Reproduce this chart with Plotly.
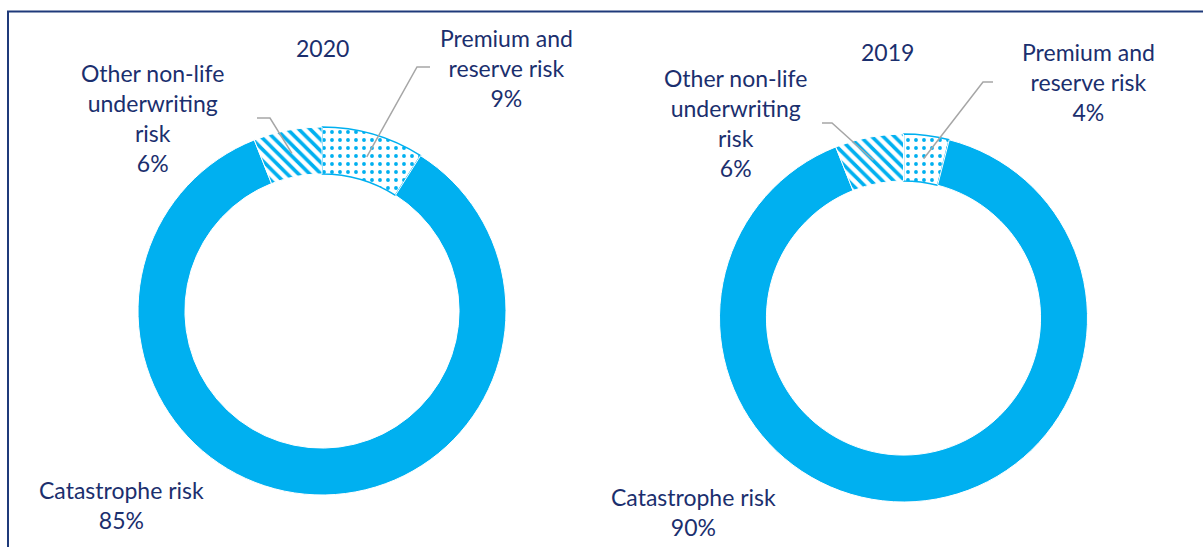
import math
import plotly.graph_objects as go

# ---- data ----
categories = ["Premium and reserve risk", "Catastrophe risk", "Other non-life underwriting risk"]
values_2020 = [9, 85, 6]
values_2019 = [4, 90, 6]
years = ["2020", "2019"]

# ---- layout constants ----
W, H = 1203, 547
BLUE = "#00B0F0"
NAVY = "#1B2F6E"
FONT = "Lato"
FS = 23
R_OUT = 184
HOLE = 0.745
centers = [(322, 311), (903.5, 318)]

def px(x):
    return x / W

def py(y):
    return 1 - y / H

fig = go.Figure()
for vals, (cx, cy) in zip([values_2020, values_2019], centers):
    fig.add_trace(go.Pie(
        labels=categories,
        values=vals,
        sort=False,
        direction="clockwise",
        rotation=0,
        hole=HOLE,
        textinfo="none",
        hoverinfo="skip",
        showlegend=False,
        domain=dict(x=[px(cx - R_OUT), px(cx + R_OUT)],
                    y=[py(cy + R_OUT), py(cy - R_OUT)]),
        marker=dict(
            colors=["white", BLUE, "white"],
            line=dict(color=[BLUE, "white", "white"], width=[1.5, 1, 1]),
            pattern=dict(shape=[".", "", "\\"], fgcolor=BLUE, bgcolor="white",
                         size=8, solidity=[0.18, 0.0, 0.45], fillmode="replace"),
        ),
    ))

annotations = []
shapes = []

def label(text, x, y):
    annotations.append(dict(text=text, x=px(x), y=py(y), xref="paper", yref="paper",
                            showarrow=False, xanchor="center", yanchor="middle",
                            align="center", font=dict(family=FONT, size=FS, color=NAVY)))

# label positions per chart: (title, premium, other, catastrophe) centers + elbow
layouts = [
    dict(title=(322, 48), prem=(506, 68), other=(152, 118), cat=(122, 505),
         prem_elbow=[(417, 67), (430, 67)], other_elbow=[(270, 118), (257, 118)]),
    dict(title=(887, 52), prem=(1088, 82), other=(735, 123), cat=(693, 512),
         prem_elbow=[(983, 82), (993, 82)], other_elbow=[(832, 123), (822, 123)]),
]

R_MID = R_OUT * (1 + HOLE) / 2
for vals, (cx, cy), lay, yr in zip([values_2020, values_2019], centers, layouts, years):
    total = sum(vals)
    label(yr, *lay["title"])
    label(f"Premium and<br>reserve risk<br>{round(vals[0] / total * 100)}%", *lay["prem"])
    label(f"Other non-life<br>underwriting<br>risk<br>{round(vals[2] / total * 100)}%", *lay["other"])
    label(f"Catastrophe risk<br>{round(vals[1] / total * 100)}%", *lay["cat"])
    # leader lines from slice mid-angles
    a_prem = math.radians(vals[0] / total * 180)
    a_other = math.radians(360 - vals[2] / total * 180)
    for ang, elbow in [(a_prem, lay["prem_elbow"]), (a_other, lay["other_elbow"])]:
        sx = cx + R_MID * math.sin(ang)
        sy = cy - R_MID * math.cos(ang)
        pts = [(sx, sy)] + elbow
        path = "M " + " L ".join(f"{px(x)},{py(y)}" for x, y in pts)
        shapes.append(dict(type="path", path=path, xref="paper", yref="paper",
                           line=dict(color="#A6A6A6", width=1.5)))

# outer frame
shapes.append(dict(type="rect", xref="paper", yref="paper",
                   x0=px(8), x1=px(W + 10), y0=py(H + 10), y1=py(11.5),
                   line=dict(color="#1F3A7A", width=2), fillcolor="rgba(0,0,0,0)"))

fig.update_layout(
    width=W, height=H,
    margin=dict(l=0, r=0, t=0, b=0),
    paper_bgcolor="white", plot_bgcolor="white",
    annotations=annotations, shapes=shapes,
)
fig.write_html("out.html")
